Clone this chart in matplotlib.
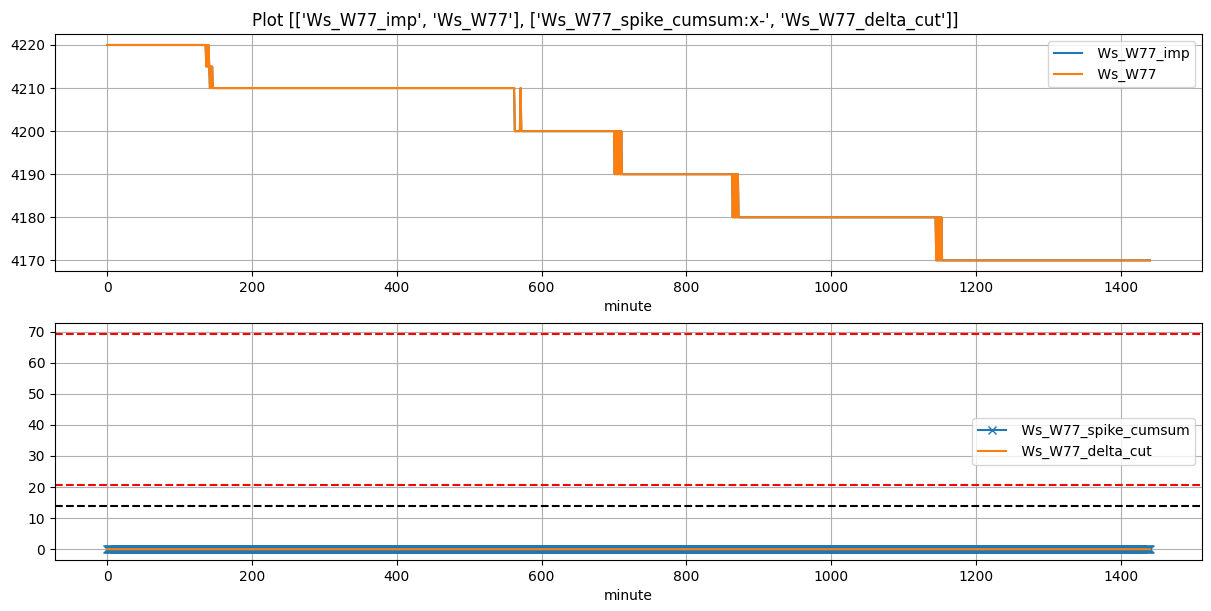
import numpy as np
import pandas as pd
import matplotlib
matplotlib.use("Agg")
import matplotlib.pyplot as plt

# minutes of the day
minute = np.arange(0, 1441)

# points where Ws_W77 changes value (minute, new value)
change_minute = [0, 137, 138, 139, 140, 141, 142, 143, 144, 145, 146,
                 563, 571, 572,
                 701, 702, 703, 704, 705, 706, 707, 708, 709, 710, 711,
                 864, 865, 866, 867, 868, 869, 870, 871, 872,
                 1145, 1146, 1147, 1148, 1149, 1150, 1151, 1152, 1153, 1154]
change_value = [4220, 4215, 4220, 4215, 4220, 4215, 4210, 4215, 4210, 4215, 4210,
                4200, 4210, 4200,
                4190, 4200, 4190, 4200, 4190, 4200, 4190, 4200, 4190, 4200, 4190,
                4180, 4190, 4180, 4190, 4180, 4190, 4180, 4190, 4180,
                4170, 4180, 4170, 4180, 4170, 4180, 4170, 4180, 4170, 4170]

# threshold lines in the lower panel
upper_limit = 69.3
lower_limit = 20.7
black_limit = 13.8

idx = np.searchsorted(change_minute, minute, side="right") - 1
df = pd.DataFrame({"minute": minute})
df["Ws_W77"] = np.array(change_value)[idx]
df["Ws_W77_imp"] = df["Ws_W77"]
df["Ws_W77_spike_cumsum"] = 0
df["Ws_W77_delta_cut"] = 0

fig, axs = plt.subplots(2, 1, figsize=(12.11, 6.11), dpi=100)
fig.subplots_adjust(left=0.0454, right=0.9926, top=0.944, bottom=0.0835, hspace=0.219)
fig.suptitle("Plot [['Ws_W77_imp', 'Ws_W77'], ['Ws_W77_spike_cumsum:x-', 'Ws_W77_delta_cut']]")

ax = axs[0]
ax.plot(df["minute"], df["Ws_W77_imp"], label=" Ws_W77_imp")
ax.plot(df["minute"], df["Ws_W77"], label=" Ws_W77")
ax.set_xlabel("minute")
ax.grid(True)
ax.legend(loc="upper right")

ax = axs[1]
ax.plot(df["minute"], df["Ws_W77_spike_cumsum"], "x-", label=" Ws_W77_spike_cumsum")
ax.plot(df["minute"], df["Ws_W77_delta_cut"], label=" Ws_W77_delta_cut")
ax.axhline(upper_limit, color="r", linestyle="--")
ax.axhline(lower_limit, color="r", linestyle="--")
ax.axhline(black_limit, color="k", linestyle="--")
ax.set_xlabel("minute")
ax.grid(True)
ax.legend(loc="center right")

fig.savefig("out.png")
